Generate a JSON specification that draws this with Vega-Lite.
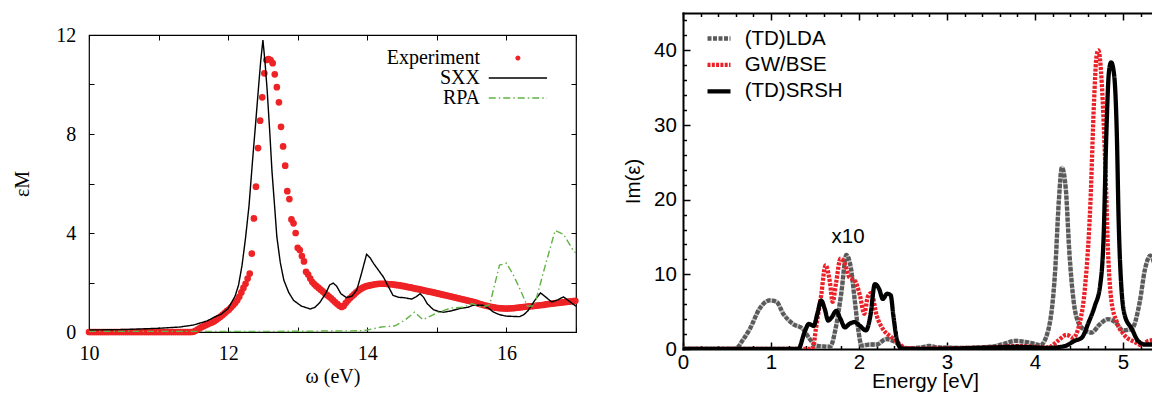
{
  "$schema": "https://vega.github.io/schema/vega-lite/v6.json",
  "padding": {"left": 12, "top": 10, "right": 0, "bottom": 0},
  "spacing": 41,
  "resolve": {"scale": {"color": "independent", "strokeDash": "independent", "shape": "independent"}, "legend": {"color": "independent", "strokeDash": "independent", "shape": "independent"}},
  "config": {
    "font": "Liberation Sans",
    "view": {"stroke": null},
    "axis": {"grid": false, "labelColor": "black", "titleColor": "black", "tickColor": "black", "domainColor": "black", "titleFontWeight": "normal", "labelFlush": false, "labelOverlap": false, "labelBound": false}
  },
  "datasets": {
    "exp": [
      {"x":10.00,"y":0},{"x":10.03,"y":0},{"x":10.06,"y":0},{"x":10.09,"y":0},{"x":10.12,"y":0},{"x":10.15,"y":0},{"x":10.18,"y":0},{"x":10.21,"y":0},{"x":10.24,"y":0},{"x":10.27,"y":0},
      {"x":10.30,"y":0},{"x":10.33,"y":0},{"x":10.36,"y":0},{"x":10.39,"y":0},{"x":10.42,"y":0},{"x":10.45,"y":0},{"x":10.48,"y":0},{"x":10.51,"y":0},{"x":10.54,"y":0},{"x":10.57,"y":0},
      {"x":10.60,"y":0},{"x":10.63,"y":0},{"x":10.66,"y":0},{"x":10.69,"y":0},{"x":10.72,"y":0},{"x":10.75,"y":0},{"x":10.78,"y":0},{"x":10.81,"y":0},{"x":10.84,"y":0},{"x":10.87,"y":0},
      {"x":10.90,"y":0},{"x":10.93,"y":0},{"x":10.96,"y":0},{"x":10.99,"y":0},{"x":11.02,"y":0},{"x":11.05,"y":0},{"x":11.08,"y":0},{"x":11.11,"y":0},{"x":11.14,"y":0},{"x":11.17,"y":0},
      {"x":11.20,"y":0},{"x":11.23,"y":0},{"x":11.26,"y":0},{"x":11.29,"y":0},{"x":11.32,"y":0},{"x":11.35,"y":0},{"x":11.38,"y":0},{"x":11.41,"y":0},{"x":11.44,"y":0},{"x":11.47,"y":0},
      {"x":11.50,"y":0.01},{"x":11.53,"y":0.05},{"x":11.56,"y":0.1},{"x":11.59,"y":0.15},{"x":11.62,"y":0.2},{"x":11.65,"y":0.24},{"x":11.68,"y":0.28},{"x":11.71,"y":0.32},{"x":11.74,"y":0.36},{"x":11.77,"y":0.39},
      {"x":11.80,"y":0.43},{"x":11.83,"y":0.5},{"x":11.86,"y":0.56},{"x":11.89,"y":0.62},{"x":11.92,"y":0.69},{"x":11.95,"y":0.76},{"x":11.98,"y":0.84},{"x":12.01,"y":0.9},{"x":12.04,"y":0.99},{"x":12.07,"y":1.08},
      {"x":12.10,"y":1.17},{"x":12.13,"y":1.28},{"x":12.16,"y":1.42},{"x":12.19,"y":1.6},{"x":12.22,"y":1.78},{"x":12.25,"y":1.95},{"x":12.28,"y":2.16},{"x":12.31,"y":2.36},{"x":12.34,"y":3.17},{"x":12.37,"y":4.59},
      {"x":12.40,"y":5.87},{"x":12.43,"y":7.43},{"x":12.46,"y":8.54},{"x":12.49,"y":9.48},{"x":12.52,"y":10.45},{"x":12.55,"y":10.99},{"x":12.58,"y":11.03},{"x":12.61,"y":10.99},{"x":12.64,"y":10.86},{"x":12.67,"y":10.41},
      {"x":12.70,"y":9.89},{"x":12.73,"y":9.28},{"x":12.76,"y":8.29},{"x":12.79,"y":7.5},{"x":12.82,"y":6.72},{"x":12.85,"y":5.69},{"x":12.88,"y":5.37},{"x":12.91,"y":4.55},{"x":12.94,"y":4.39},{"x":12.97,"y":4.0},
      {"x":13.00,"y":3.4},{"x":13.03,"y":3.31},{"x":13.06,"y":3.07},{"x":13.09,"y":2.85},{"x":13.12,"y":2.43},{"x":13.15,"y":2.32},{"x":13.18,"y":2.16},{"x":13.21,"y":2.02},{"x":13.24,"y":1.93},{"x":13.27,"y":1.85},
      {"x":13.30,"y":1.78},{"x":13.33,"y":1.71},{"x":13.36,"y":1.64},{"x":13.39,"y":1.57},{"x":13.42,"y":1.5},{"x":13.45,"y":1.43},{"x":13.48,"y":1.36},{"x":13.51,"y":1.28},{"x":13.54,"y":1.2},{"x":13.57,"y":1.13},
      {"x":13.60,"y":1.06},{"x":13.63,"y":1.01},{"x":13.66,"y":1.05},{"x":13.69,"y":1.17},{"x":13.72,"y":1.27},{"x":13.75,"y":1.36},{"x":13.78,"y":1.44},{"x":13.81,"y":1.52},{"x":13.84,"y":1.6},{"x":13.87,"y":1.67},
      {"x":13.90,"y":1.73},{"x":13.93,"y":1.78},{"x":13.96,"y":1.82},{"x":13.99,"y":1.85},{"x":14.02,"y":1.87},{"x":14.05,"y":1.89},{"x":14.08,"y":1.91},{"x":14.11,"y":1.93},{"x":14.14,"y":1.94},{"x":14.17,"y":1.95},
      {"x":14.20,"y":1.95},{"x":14.23,"y":1.95},{"x":14.26,"y":1.95},{"x":14.29,"y":1.94},{"x":14.32,"y":1.93},{"x":14.35,"y":1.93},{"x":14.38,"y":1.92},{"x":14.41,"y":1.9},{"x":14.44,"y":1.89},{"x":14.47,"y":1.88},
      {"x":14.50,"y":1.86},{"x":14.53,"y":1.85},{"x":14.56,"y":1.83},{"x":14.59,"y":1.81},{"x":14.62,"y":1.8},{"x":14.65,"y":1.78},{"x":14.68,"y":1.76},{"x":14.71,"y":1.74},{"x":14.74,"y":1.73},{"x":14.77,"y":1.71},
      {"x":14.80,"y":1.69},{"x":14.83,"y":1.67},{"x":14.86,"y":1.65},{"x":14.89,"y":1.63},{"x":14.92,"y":1.62},{"x":14.95,"y":1.6},{"x":14.98,"y":1.58},{"x":15.01,"y":1.56},{"x":15.04,"y":1.54},{"x":15.07,"y":1.52},
      {"x":15.10,"y":1.5},{"x":15.13,"y":1.48},{"x":15.16,"y":1.46},{"x":15.19,"y":1.44},{"x":15.22,"y":1.42},{"x":15.25,"y":1.4},{"x":15.28,"y":1.38},{"x":15.31,"y":1.36},{"x":15.34,"y":1.34},{"x":15.37,"y":1.32},
      {"x":15.40,"y":1.3},{"x":15.43,"y":1.28},{"x":15.46,"y":1.26},{"x":15.49,"y":1.24},{"x":15.52,"y":1.22},{"x":15.55,"y":1.2},{"x":15.58,"y":1.17},{"x":15.61,"y":1.14},{"x":15.64,"y":1.12},{"x":15.67,"y":1.09},
      {"x":15.70,"y":1.07},{"x":15.73,"y":1.05},{"x":15.76,"y":1.03},{"x":15.79,"y":1.01},{"x":15.82,"y":1.0},{"x":15.85,"y":0.98},{"x":15.88,"y":0.97},{"x":15.91,"y":0.96},{"x":15.94,"y":0.96},{"x":15.97,"y":0.95},
      {"x":16.00,"y":0.95},{"x":16.03,"y":0.95},{"x":16.06,"y":0.96},{"x":16.09,"y":0.96},{"x":16.12,"y":0.97},{"x":16.15,"y":0.98},{"x":16.18,"y":0.99},{"x":16.21,"y":1.0},{"x":16.24,"y":1.01},{"x":16.27,"y":1.02},
      {"x":16.30,"y":1.03},{"x":16.33,"y":1.04},{"x":16.36,"y":1.04},{"x":16.39,"y":1.05},{"x":16.42,"y":1.06},{"x":16.45,"y":1.07},{"x":16.48,"y":1.08},{"x":16.51,"y":1.09},{"x":16.54,"y":1.1},{"x":16.57,"y":1.12},
      {"x":16.60,"y":1.13},{"x":16.63,"y":1.14},{"x":16.66,"y":1.15},{"x":16.69,"y":1.16},{"x":16.72,"y":1.17},{"x":16.75,"y":1.18},{"x":16.78,"y":1.19},{"x":16.81,"y":1.2},{"x":16.84,"y":1.21},{"x":16.87,"y":1.22},
      {"x":16.90,"y":1.23},{"x":16.93,"y":1.24},{"x":16.96,"y":1.25},{"x":16.99,"y":1.26}
    ],
    "theory": [
      {"series":"SXX","x":10.0,"y":0.08},{"series":"SXX","x":10.5,"y":0.1},{"series":"SXX","x":11.0,"y":0.15},{"series":"SXX","x":11.3,"y":0.2},{"series":"SXX","x":11.5,"y":0.28},
      {"series":"SXX","x":11.7,"y":0.45},{"series":"SXX","x":11.8,"y":0.6},{"series":"SXX","x":11.9,"y":0.72},{"series":"SXX","x":12.0,"y":0.95},{"series":"SXX","x":12.1,"y":1.45},
      {"series":"SXX","x":12.15,"y":1.9},{"series":"SXX","x":12.2,"y":2.7},{"series":"SXX","x":12.25,"y":3.8},{"series":"SXX","x":12.3,"y":5.1},{"series":"SXX","x":12.35,"y":6.9},
      {"series":"SXX","x":12.4,"y":8.6},{"series":"SXX","x":12.44,"y":10.0},{"series":"SXX","x":12.47,"y":11.0},{"series":"SXX","x":12.5,"y":11.8},{"series":"SXX","x":12.53,"y":10.9},
      {"series":"SXX","x":12.56,"y":9.8},{"series":"SXX","x":12.6,"y":8.0},{"series":"SXX","x":12.63,"y":6.5},{"series":"SXX","x":12.67,"y":5.0},{"series":"SXX","x":12.7,"y":3.85},
      {"series":"SXX","x":12.75,"y":2.8},{"series":"SXX","x":12.8,"y":2.1},{"series":"SXX","x":12.87,"y":1.6},{"series":"SXX","x":12.94,"y":1.28},{"series":"SXX","x":13.05,"y":1.05},
      {"series":"SXX","x":13.18,"y":0.93},{"series":"SXX","x":13.25,"y":1.0},{"series":"SXX","x":13.32,"y":1.2},{"series":"SXX","x":13.4,"y":1.55},{"series":"SXX","x":13.46,"y":1.9},
      {"series":"SXX","x":13.51,"y":1.98},{"series":"SXX","x":13.56,"y":1.85},{"series":"SXX","x":13.62,"y":1.55},{"series":"SXX","x":13.7,"y":1.39},{"series":"SXX","x":13.78,"y":1.45},
      {"series":"SXX","x":13.85,"y":1.7},{"series":"SXX","x":13.92,"y":2.4},{"series":"SXX","x":13.99,"y":3.14},{"series":"SXX","x":14.04,"y":3.0},{"series":"SXX","x":14.09,"y":2.77},
      {"series":"SXX","x":14.16,"y":2.5},{"series":"SXX","x":14.23,"y":2.23},{"series":"SXX","x":14.3,"y":1.85},{"series":"SXX","x":14.37,"y":1.48},{"series":"SXX","x":14.45,"y":1.4},
      {"series":"SXX","x":14.52,"y":1.39},{"series":"SXX","x":14.64,"y":1.33},{"series":"SXX","x":14.7,"y":1.42},{"series":"SXX","x":14.76,"y":1.55},{"series":"SXX","x":14.81,"y":1.4},
      {"series":"SXX","x":14.86,"y":1.15},{"series":"SXX","x":14.95,"y":0.9},{"series":"SXX","x":15.04,"y":0.82},{"series":"SXX","x":15.1,"y":0.8},{"series":"SXX","x":15.2,"y":0.85},
      {"series":"SXX","x":15.33,"y":0.95},{"series":"SXX","x":15.45,"y":1.0},{"series":"SXX","x":15.52,"y":1.08},{"series":"SXX","x":15.66,"y":1.08},{"series":"SXX","x":15.75,"y":0.95},
      {"series":"SXX","x":15.81,"y":0.81},{"series":"SXX","x":15.9,"y":0.7},{"series":"SXX","x":16.0,"y":0.64},{"series":"SXX","x":16.19,"y":0.62},{"series":"SXX","x":16.25,"y":0.7},
      {"series":"SXX","x":16.31,"y":0.86},{"series":"SXX","x":16.4,"y":1.25},{"series":"SXX","x":16.49,"y":1.58},{"series":"SXX","x":16.57,"y":1.4},{"series":"SXX","x":16.65,"y":1.21},
      {"series":"SXX","x":16.74,"y":1.3},{"series":"SXX","x":16.82,"y":1.42},{"series":"SXX","x":16.9,"y":1.25},{"series":"SXX","x":17.0,"y":1.04},
      {"series":"RPA","x":10.0,"y":0.02},{"series":"RPA","x":11.0,"y":0.02},{"series":"RPA","x":12.0,"y":0.02},{"series":"RPA","x":13.0,"y":0.03},{"series":"RPA","x":13.9,"y":0.05},
      {"series":"RPA","x":14.0,"y":0.08},{"series":"RPA","x":14.2,"y":0.2},{"series":"RPA","x":14.4,"y":0.25},{"series":"RPA","x":14.55,"y":0.5},{"series":"RPA","x":14.68,"y":0.8},
      {"series":"RPA","x":14.8,"y":0.5},{"series":"RPA","x":15.0,"y":0.77},{"series":"RPA","x":15.2,"y":0.97},{"series":"RPA","x":15.38,"y":1.0},{"series":"RPA","x":15.5,"y":1.15},
      {"series":"RPA","x":15.65,"y":1.0},{"series":"RPA","x":15.76,"y":1.1},{"series":"RPA","x":15.9,"y":2.7},{"series":"RPA","x":16.0,"y":2.78},{"series":"RPA","x":16.1,"y":2.3},
      {"series":"RPA","x":16.2,"y":1.7},{"series":"RPA","x":16.3,"y":1.05},{"series":"RPA","x":16.4,"y":1.05},{"series":"RPA","x":16.55,"y":2.6},{"series":"RPA","x":16.7,"y":4.1},
      {"series":"RPA","x":16.82,"y":3.95},{"series":"RPA","x":16.97,"y":3.25},{"series":"RPA","x":17.0,"y":3.2}
    ],
    "spectra": [
      {"series":"(TD)LDA","x":0,"y":0},{"series":"(TD)LDA","x":0.5,"y":0},{"series":"(TD)LDA","x":0.6,"y":0.05},{"series":"(TD)LDA","x":0.68,"y":1.2},{"series":"(TD)LDA","x":0.76,"y":2.7},
      {"series":"(TD)LDA","x":0.87,"y":5.4},{"series":"(TD)LDA","x":0.985,"y":6.5},{"series":"(TD)LDA","x":1.06,"y":6.35},{"series":"(TD)LDA","x":1.14,"y":4.7},{"series":"(TD)LDA","x":1.25,"y":3.35},
      {"series":"(TD)LDA","x":1.36,"y":2.7},{"series":"(TD)LDA","x":1.44,"y":1.34},{"series":"(TD)LDA","x":1.51,"y":0.45},{"series":"(TD)LDA","x":1.59,"y":0.35},{"series":"(TD)LDA","x":1.67,"y":0.3},
      {"series":"(TD)LDA","x":1.74,"y":3.1},{"series":"(TD)LDA","x":1.8,"y":7.6},{"series":"(TD)LDA","x":1.856,"y":12.6},{"series":"(TD)LDA","x":1.91,"y":10.7},{"series":"(TD)LDA","x":1.95,"y":6.7},
      {"series":"(TD)LDA","x":1.99,"y":2.7},{"series":"(TD)LDA","x":2.03,"y":0.45},{"series":"(TD)LDA","x":2.12,"y":0.6},{"series":"(TD)LDA","x":2.2,"y":0.6},{"series":"(TD)LDA","x":2.31,"y":1.34},
      {"series":"(TD)LDA","x":2.42,"y":0.9},{"series":"(TD)LDA","x":2.5,"y":0.2},{"series":"(TD)LDA","x":2.58,"y":0.1},{"series":"(TD)LDA","x":2.7,"y":0.2},{"series":"(TD)LDA","x":2.8,"y":0.4},
      {"series":"(TD)LDA","x":2.9,"y":0.2},{"series":"(TD)LDA","x":3.2,"y":0.15},{"series":"(TD)LDA","x":3.5,"y":0.3},{"series":"(TD)LDA","x":3.65,"y":0.7},{"series":"(TD)LDA","x":3.77,"y":1.1},
      {"series":"(TD)LDA","x":3.96,"y":0.8},{"series":"(TD)LDA","x":4.06,"y":0.5},{"series":"(TD)LDA","x":4.15,"y":2.5},{"series":"(TD)LDA","x":4.23,"y":10.7},{"series":"(TD)LDA","x":4.27,"y":19.7},
      {"series":"(TD)LDA","x":4.305,"y":24.3},{"series":"(TD)LDA","x":4.35,"y":21.4},{"series":"(TD)LDA","x":4.39,"y":13},{"series":"(TD)LDA","x":4.44,"y":6.3},{"series":"(TD)LDA","x":4.49,"y":3.6},
      {"series":"(TD)LDA","x":4.57,"y":2.5},{"series":"(TD)LDA","x":4.64,"y":2.2},{"series":"(TD)LDA","x":4.74,"y":3.35},{"series":"(TD)LDA","x":4.83,"y":4.0},{"series":"(TD)LDA","x":4.91,"y":3.6},
      {"series":"(TD)LDA","x":5.0,"y":2.5},{"series":"(TD)LDA","x":5.1,"y":2.7},{"series":"(TD)LDA","x":5.19,"y":6.3},{"series":"(TD)LDA","x":5.25,"y":10.7},{"series":"(TD)LDA","x":5.31,"y":12.5},
      {"series":"(TD)LDA","x":5.35,"y":11.6},{"series":"(TD)LDA","x":5.37,"y":10.5},
      {"series":"GW/BSE","x":0,"y":0},{"series":"GW/BSE","x":1.45,"y":0},{"series":"GW/BSE","x":1.48,"y":0.3},{"series":"GW/BSE","x":1.51,"y":2.7},{"series":"GW/BSE","x":1.57,"y":7.2},
      {"series":"GW/BSE","x":1.62,"y":11.2},{"series":"GW/BSE","x":1.67,"y":8.9},{"series":"GW/BSE","x":1.7,"y":6.3},{"series":"GW/BSE","x":1.74,"y":8.9},{"series":"GW/BSE","x":1.79,"y":12.1},
      {"series":"GW/BSE","x":1.84,"y":11.4},{"series":"GW/BSE","x":1.89,"y":9.6},{"series":"GW/BSE","x":1.95,"y":9.2},{"series":"GW/BSE","x":2.01,"y":7.2},{"series":"GW/BSE","x":2.06,"y":4.7},
      {"series":"GW/BSE","x":2.1,"y":7.0},{"series":"GW/BSE","x":2.14,"y":7.5},{"series":"GW/BSE","x":2.2,"y":4.5},{"series":"GW/BSE","x":2.27,"y":2.7},{"series":"GW/BSE","x":2.37,"y":1.57},
      {"series":"GW/BSE","x":2.46,"y":0.67},{"series":"GW/BSE","x":2.53,"y":0.1},{"series":"GW/BSE","x":2.7,"y":0.05},{"series":"GW/BSE","x":3.0,"y":0.1},{"series":"GW/BSE","x":3.5,"y":0.2},
      {"series":"GW/BSE","x":3.77,"y":0.4},{"series":"GW/BSE","x":4.0,"y":0.3},{"series":"GW/BSE","x":4.15,"y":0.2},{"series":"GW/BSE","x":4.26,"y":1.1},{"series":"GW/BSE","x":4.36,"y":1.9},
      {"series":"GW/BSE","x":4.43,"y":1.5},{"series":"GW/BSE","x":4.51,"y":3.6},{"series":"GW/BSE","x":4.57,"y":8.5},{"series":"GW/BSE","x":4.63,"y":19.7},{"series":"GW/BSE","x":4.67,"y":33},
      {"series":"GW/BSE","x":4.7,"y":39.3},{"series":"GW/BSE","x":4.72,"y":40},{"series":"GW/BSE","x":4.76,"y":35.3},{"series":"GW/BSE","x":4.8,"y":24.1},{"series":"GW/BSE","x":4.83,"y":13},
      {"series":"GW/BSE","x":4.87,"y":6.3},{"series":"GW/BSE","x":4.93,"y":3.6},{"series":"GW/BSE","x":5.02,"y":1.8},{"series":"GW/BSE","x":5.14,"y":0.9},{"series":"GW/BSE","x":5.21,"y":0.5},
      {"series":"GW/BSE","x":5.29,"y":1.1},{"series":"GW/BSE","x":5.37,"y":1.2},
      {"series":"(TD)SRSH","x":0,"y":0},{"series":"(TD)SRSH","x":1.31,"y":0},{"series":"(TD)SRSH","x":1.38,"y":2.2},{"series":"(TD)SRSH","x":1.43,"y":3.35},{"series":"(TD)SRSH","x":1.485,"y":3.1},
      {"series":"(TD)SRSH","x":1.53,"y":4.9},{"series":"(TD)SRSH","x":1.57,"y":6.5},{"series":"(TD)SRSH","x":1.61,"y":5.4},{"series":"(TD)SRSH","x":1.65,"y":3.8},{"series":"(TD)SRSH","x":1.69,"y":4.25},
      {"series":"(TD)SRSH","x":1.74,"y":5.1},{"series":"(TD)SRSH","x":1.79,"y":4.0},{"series":"(TD)SRSH","x":1.84,"y":2.9},{"series":"(TD)SRSH","x":1.89,"y":3.35},{"series":"(TD)SRSH","x":1.95,"y":3.6},
      {"series":"(TD)SRSH","x":2.01,"y":3.1},{"series":"(TD)SRSH","x":2.08,"y":2.5},{"series":"(TD)SRSH","x":2.13,"y":4.5},{"series":"(TD)SRSH","x":2.18,"y":8.7},{"series":"(TD)SRSH","x":2.23,"y":8.0},
      {"series":"(TD)SRSH","x":2.27,"y":6.7},{"series":"(TD)SRSH","x":2.32,"y":7.4},{"series":"(TD)SRSH","x":2.36,"y":7.2},{"series":"(TD)SRSH","x":2.39,"y":4.5},{"series":"(TD)SRSH","x":2.43,"y":1.3},
      {"series":"(TD)SRSH","x":2.48,"y":0.1},{"series":"(TD)SRSH","x":2.6,"y":0},{"series":"(TD)SRSH","x":3.0,"y":0.05},{"series":"(TD)SRSH","x":3.5,"y":0.2},{"series":"(TD)SRSH","x":3.8,"y":0.3},
      {"series":"(TD)SRSH","x":4.15,"y":0.15},{"series":"(TD)SRSH","x":4.34,"y":0.4},{"series":"(TD)SRSH","x":4.45,"y":1.1},{"series":"(TD)SRSH","x":4.53,"y":1.5},{"series":"(TD)SRSH","x":4.61,"y":3.6},
      {"series":"(TD)SRSH","x":4.68,"y":5.8},{"series":"(TD)SRSH","x":4.74,"y":8.5},{"series":"(TD)SRSH","x":4.78,"y":15.2},{"series":"(TD)SRSH","x":4.81,"y":28.6},{"series":"(TD)SRSH","x":4.84,"y":37.1},
      {"series":"(TD)SRSH","x":4.865,"y":38.4},{"series":"(TD)SRSH","x":4.9,"y":36.6},{"series":"(TD)SRSH","x":4.93,"y":28.6},{"series":"(TD)SRSH","x":4.95,"y":17.4},{"series":"(TD)SRSH","x":4.98,"y":8.5},
      {"series":"(TD)SRSH","x":5.02,"y":4.5},{"series":"(TD)SRSH","x":5.1,"y":2.7},{"series":"(TD)SRSH","x":5.17,"y":1.1},{"series":"(TD)SRSH","x":5.25,"y":0.6},{"series":"(TD)SRSH","x":5.37,"y":0.6}
    ],
    "notes": [{"x": 1.875, "y": 15.0, "label": "x10"}]
  },
  "hconcat": [
    {
      "spacing": 0,
      "vconcat": [
        {
          "width": 487,
          "height": 11,
          "data": {"values": []},
          "mark": "point"
        },
        {
          "width": 487,
          "height": 297,
          "view": {"stroke": "black", "strokeWidth": 1.2},
          "resolve": {"axis": {"x": "independent", "y": "independent"}},
          "layer": [
            {
              "data": {"name": "exp"},
              "transform": [{"calculate": "'Experiment'", "as": "series"}],
              "mark": {"type": "point", "filled": false, "fill": "#ee2326", "fillOpacity": 1, "strokeWidth": 1.5, "size": 221, "opacity": 1},
              "encoding": {
                "x": {"field": "x", "type": "quantitative",
                      "scale": {"domain": [10, 17], "nice": false, "zero": false},
                      "axis": {"orient": "bottom", "values": [10, 11, 12, 13, 14, 15, 16, 17], "labelExpr": "datum.value % 2 === 0 ? datum.label : ''",
                               "tickSize": -5, "labelPadding": 16.8, "domain": false, "title": "ω (eV)",
                               "titleFont": "Liberation Serif", "titleFontSize": 20, "titlePadding": 3,
                               "labelFont": "Liberation Serif", "labelFontSize": 20}},
                "y": {"field": "y", "type": "quantitative",
                      "scale": {"domain": [0, 12], "nice": false},
                      "axis": {"orient": "left", "values": [0, 2, 4, 6, 8, 10, 12], "labelExpr": "datum.value % 4 === 0 ? datum.label : ''",
                               "tickSize": -5, "labelPadding": 18.3, "domain": false, "title": "εM",
                               "titleFont": "Liberation Serif", "titleFontSize": 20, "titlePadding": 23,
                               "labelFont": "Liberation Serif", "labelFontSize": 20}},
                "shape": {"field": "series", "type": "nominal",
                          "scale": {"domain": ["Experiment", "SXX", "RPA"], "range": ["M-0.35,0A0.35,0.35,0,1,0,0.35,0A0.35,0.35,0,1,0,-0.35,0Z", "M-5.83,0H5.83", "M-5.83,0H5.83"]},
                          "legend": null},
                "color": {"field": "series", "type": "nominal",
                          "scale": {"domain": ["Experiment", "SXX", "RPA"], "range": ["#ee2326", "#000000", "#62b346"]},
                          "legend": {"orient": "none", "legendX": 418.9, "legendY": 35, "title": null, "padding": 0,
                                     "labelFont": "Liberation Serif", "labelFontSize": 20, "labelColor": "black",
                                     "labelAlign": "right", "labelOffset": -47.9,
                                     "symbolSize": 100, "symbolStrokeWidth": 1.5, "rowPadding": -0.5}}
              }
            },
            {
              "data": {"name": "theory"},
              "mark": {"type": "line", "strokeWidth": 1.4, "clip": true},
              "encoding": {
                "x": {"field": "x", "type": "quantitative",
                      "axis": {"orient": "top", "values": [10, 11, 12, 13, 14, 15, 16, 17], "labels": false, "tickSize": -5, "domain": false, "title": null}},
                "y": {"field": "y", "type": "quantitative",
                      "axis": {"orient": "right", "values": [0, 2, 4, 6, 8, 10, 12], "labels": false, "tickSize": -5, "domain": false, "title": null}},
                "color": {"field": "series", "type": "nominal", "legend": null},
                "strokeDash": {"field": "series", "type": "nominal",
                               "scale": {"domain": ["Experiment", "SXX", "RPA"], "range": [[1, 0], [1, 0], [7, 3, 1.5, 3]]}, "legend": null}
              }
            }
          ]
        }
      ]
    },
    {
      "width": 471,
      "height": 336,
      "resolve": {"axis": {"x": "independent", "y": "independent"}},
      "layer": [
        {
          "data": {"name": "spectra"},
          "transform": [{"filter": "datum.series === '(TD)LDA'"}],
          "mark": {"type": "line", "strokeWidth": 4.3, "color": "#c4c4c4", "interpolate": "monotone", "clip": true},
          "encoding": {
            "x": {"field": "x", "type": "quantitative",
                  "scale": {"domain": [0, 5.352], "nice": false, "zero": false},
                  "axis": {"orient": "bottom",
                           "values": [0, 0.2, 0.4, 0.6, 0.8, 1, 1.2, 1.4, 1.6, 1.8, 2, 2.2, 2.4, 2.6, 2.8, 3, 3.2, 3.4, 3.6, 3.8, 4, 4.2, 4.4, 4.6, 4.8, 5, 5.2],
                           "labelExpr": "abs(datum.value - round(datum.value)) < 0.001 ? format(datum.value, 'd') : ''",
                           "tickSize": {"condition": {"test": "abs(datum.value - round(datum.value)) < 0.001", "value": -7}, "value": -3.5},
                           "tickWidth": 1.5, "labelPadding": 10.6, "domainWidth": 2, "domainCap": "square",
                           "title": "Energy [eV]", "titleFontSize": 20.5, "titlePadding": -5.5, "titleX": 242,
                           "labelFontSize": 20.5}},
            "y": {"field": "y", "type": "quantitative",
                  "scale": {"domain": [0, 45], "nice": false},
                  "axis": {"orient": "left",
                           "values": [0, 2, 4, 6, 8, 10, 12, 14, 16, 18, 20, 22, 24, 26, 28, 30, 32, 34, 36, 38, 40, 42, 44],
                           "labelExpr": "datum.value % 10 === 0 ? format(datum.value, 'd') : ''",
                           "tickSize": {"condition": {"test": "datum.value % 10 === 0", "value": -7}, "value": -3.5},
                           "tickWidth": 1.5, "labelPadding": 13.7, "domainWidth": 2, "domainCap": "square",
                           "title": "Im(ε)", "titleFontSize": 20.5, "titlePadding": 10.2, "labelFontSize": 20.5}}
          }
        },
        {
          "data": {"name": "spectra"},
          "mark": {"type": "line", "strokeWidth": 4.3, "interpolate": "monotone", "clip": true},
          "encoding": {
            "x": {"field": "x", "type": "quantitative",
                  "axis": {"orient": "top",
                           "values": [0, 0.2, 0.4, 0.6, 0.8, 1, 1.2, 1.4, 1.6, 1.8, 2, 2.2, 2.4, 2.6, 2.8, 3, 3.2, 3.4, 3.6, 3.8, 4, 4.2, 4.4, 4.6, 4.8, 5, 5.2],
                           "labels": false,
                           "tickSize": {"condition": {"test": "abs(datum.value - round(datum.value)) < 0.001", "value": -7}, "value": -3.5},
                           "tickWidth": 1.5, "domainWidth": 2, "domainCap": "square", "title": null}},
            "y": {"field": "y", "type": "quantitative", "axis": null},
            "color": {"field": "series", "type": "nominal",
                      "scale": {"domain": ["(TD)LDA", "GW/BSE", "(TD)SRSH"], "range": ["#5a5a5a", "#ea2128", "#000000"]},
                      "legend": {"orient": "none", "legendX": 22, "legendY": 11.5, "title": null, "padding": 0,
                                 "labelFontSize": 20.5, "labelColor": "black", "labelOffset": 11.7,
                                 "symbolType": "stroke", "symbolSize": 529, "symbolStrokeWidth": 4.3, "rowPadding": 1.4}},
            "strokeDash": {"field": "series", "type": "nominal",
                           "scale": {"domain": ["(TD)LDA", "GW/BSE", "(TD)SRSH"], "range": [[4, 1.5], [3, 1.3], [1, 0]]}, "legend": null}
          }
        },
        {
          "data": {"name": "notes"},
          "mark": {"type": "text", "fontSize": 20.5, "align": "center", "baseline": "middle", "color": "black"},
          "encoding": {
            "x": {"field": "x", "type": "quantitative", "axis": null},
            "y": {"field": "y", "type": "quantitative", "axis": null},
            "text": {"field": "label"}
          }
        }
      ]
    }
  ]
}
